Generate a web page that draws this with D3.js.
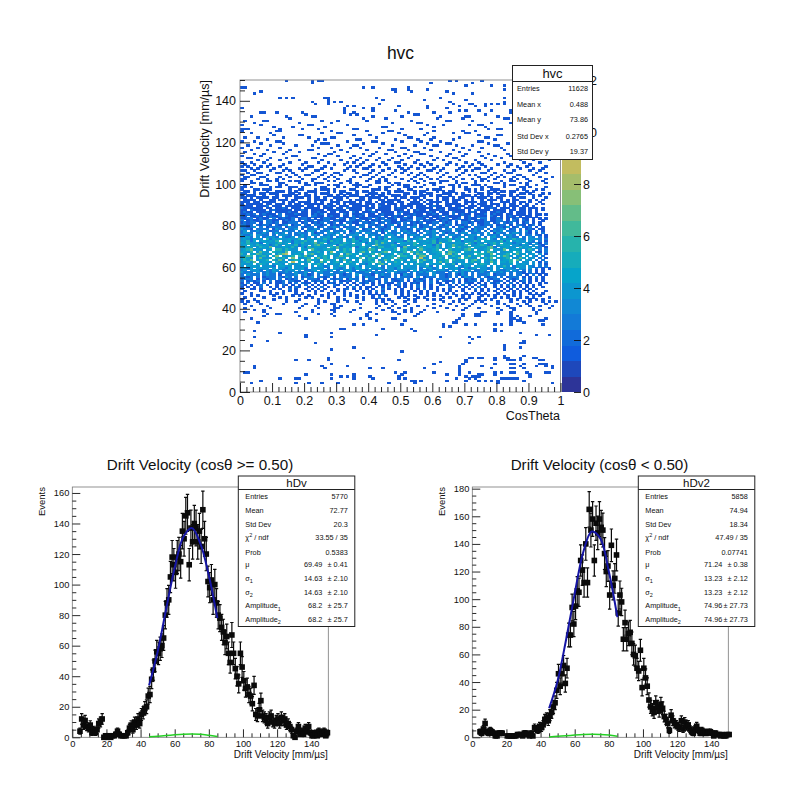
<!DOCTYPE html>
<html><head><meta charset="utf-8">
<script src="https://cdn.jsdelivr.net/npm/d3@7/dist/d3.min.js"></script>
<style>html,body{margin:0;padding:0;background:#fff}svg{display:block}text{font-family:"Liberation Sans",Arial,sans-serif;fill:#111}</style>
</head><body><svg id="c" width="800" height="785"></svg>
<script>
// ---- heat map: rows from y bin 101 down to y bin 44, one char per x bin ('.' = empty)
const denseTopBin = 101;
const denseRows = [
"1..1....11.1...1.11...1....1.1...11....1..11.1......1.1..1....111..1.....1.1.1...1..11....1...1..",
"...11.1.....11....1.1..111.....1..1.1.....11..1.11.....1...11.1....1.11..1.....11.1....1.1.....1.",
".1....111...1.1.....11.1...1.11....111..1......1.1.11....1..1....11.1...111.1.....1.11...1..1....",
"11.1.....1.11..111.1.....11...1.1...1.11...1.11....11.1.1.....11..1.1.1....1.11...1....11.1....1.",
"1...11.111.....1..11...1.111.1....11.....111.1...1..11....1.111...1...11.1.1..111.....1.1...1.1..",
".11.1...1..111.1.1...111...1.1.11...1.11.1....1.111...1.11...1.1.11....1.1...1.1.11.11...1.1.....",
"11..1.11.111...11.1.1..1.111...1.11.1...111.1.1....11.1.1.11...111.1.1....11.11.1...1..11.1...1.1",
"1.111..1...1.111.1..11.1...11.1.1.111..1.1.11..111.1....11.1.11..1...111.1.1.1...11.1.1....1.1...",
"11.1.1111.11..1..111.1.11.1..111.1...11.1111.1..1.11.111.1...1.11.1.11..1.111.1.11...1.11..1...1.",
".1111.1..11.111.11...1.1111.1.11..1.111.1..11.1111..1.1.1.11.1.11.111.1.1..1.111.1.1.11...1.1.1..",
"111.11.1111..1.11.1111.1.1..111.1111.1.11.1.1111.11..111.1.1111.1.11..1111.11.1..111.1.11.1..1...",
"1.11111.11.111.1.11.111111.11.1.1.1111.111.11.111.1.11111.11.1..11111.1.1.111.111.1.11.1.1..1.1..",
"1111.1112.111.111111.11.1.1211.111.11111.1.2111.1.1111.111.1211.11.111.111.1111.1.1.111.11.1.....",
"2111111.11.1121.111.11111.111.11.21111.111.1111.1211.1.11111.111.1112.111.1.1121.111.1.11.111.1..",
"11.21111.1211111.1121.1111.111211.1111.12.11111.111.1.1211.11121.11111.1.21111.1111.11.11.1.1.1..",
"1211.11121.1111211.11.11211.11.111.21.11121.1111.1211.1111121.111.2111.121.11.11211.1.111.1.1....",
"11212.12111.2.1112111.1212.1111.21.1112.11.12111.2.111211.1121.11.2.1211.1112.1211.11.111.1.11.1.",
"21.1121.12112.2111.11.2211.1211.11.2121.1112.1.1211.21.1121.112.21111.12.1211.21.1.121.1.11.1...",
"1122.1211.2.12112.1221.1.12211.21.12.1112.212.112.1211.221.1.1212.112.1211.22.1121.1.12.11.1.1.1",
"2.12112.2211.1212.1.212.1122.1211.2212.1.121.2211.1122.2.1211.1221.2.112.1212.1122.1.21.21.1..1.",
"12122.1.2212.11222.12.1212.212.1.2211.2212.12.2112.2.1212.1122.212.1.2212.1122.12.212.1.12.1.1..",
"2212.21221.2123.122.21.2212.12123.2.122.2212.123.1.2212.122.2.2132.1212.2.21222.122.1.221.12.1..",
"22123.2.12222.1322.2122.12.2232.1222.32.1.22212.2122.23.1222.2122.1.2312.2222.1.2213.12.212.1.1.",
"3221.2222.1322.223.1.2232.2212.2.3222.1232.2122.3.2212.223.1222.23.2212.1322.2.2232.12.2.121.11.",
"23.2232.3122.2322.2.1332.223.2223.12.3222.2313.22.2322.1.2323.2222.312.2232.2.1323.222.2.31.2.1.",
"2332.2232.2423.2.2322.3122.3323.2.2232.3322.1.3223.2322.2.3232.3122.233.2232.3.1322.2332.21.1.2.",
"3223.3322.2.3332.2242.332.2323.3.2333.2.2322.3432.2.2332.3223.22.3322.2333.2.3232.2332.2.22.21.1",
"2342.3.23332.3223.3323.2.3342.2322.3233.3.2423.3322.3.2333.2342.3.2233.3323.2.3423.2322.2.32.2.1",
"3432433.52434334335.243343532344.3352433.4232534334.42335.33423345243.3332445.32.34335342.3332.2.",
"33524.343435.3342434534.33425343.3354243.35344.3343253.43343524335.34243353.44333524.3433.32.2.1.",
"4353342.4334534.2435334635.23443543.34.2435364332.44335.3433526.433443.53243.3453.434233.42.31.2.",
"34.4354342353.4435243.3564334.25433543.43.6433354243.3543.44253.3464335.3345423.3544.33243.3.21..",
"5344.35436.3344353.42534433.5463343.2453.43553344.26433.5344353.34.45335.4433562.34433.5343.32.1.",
"3456343.34.5535433.43.64334543.3545.3443653.34435.4533.4643345.3.53443564.3345.4336.3443.353.2.2.",
"4435.3643.54436.3345.43453.37.34543.3564.43356.44335.6453.33445.36543.43354.4653.3344.54.33.21.2.",
"53.4465344.3578.3443.56334.4543.36544.3345.63434.5534.3654.3344.5735.4334.55436.3345.4634.34.3.1.",
"3465.3453.47.3345.54633.4454.3364534.4353.46.3453.5544.3673.4435.3543.46345.3354.4653.33.4.32.2.",
"4543.46334.5453.7.3345.46354.3534.4436.3553.3445.63434.5833.4453.4346.5433.3546.4345.3364.33.2.1.",
"3546.3445.5363.3454.36443.5534.3643.4.5354.3364.4453.35.4643.3445.5334.3564.4353.3445.63.43.2.2.",
"34536.3443.5343.8.4435.3364.3453.4534.3345.63.4354.3443.5334.4635.3343.4534.3364.4435.3.33.3.1.2",
"4334.3543.3443.5334.3.4453.3343.4534.3324.3563.3443.4.3533.4344.3352.4433.3543.4.3334.4343.3.2.1.",
"3.4343.3342.4433.3334.3.4423.3353.3342.3434.2.3343.3433.3352.3.4433.3243.3443.3.3353.2443.32.2.2.",
"3323.3433.3.3324.3342.3333.2.4323.3243.3.3342.3324.3333.2.3423.3.3342.3234.3323.3.4332.33.3.2.1.1",
"23.3332.3243.2333.3.2234.3323.2.3332.3423.2.3233.3332.4.2323.3332.3.2343.2233.3.3223.32.2.2.1.1.",
"3222.3.2323.2232.3223.2.3322.2232.3.2223.2322.3.3222.2.2323.3222.2.3232.2.2322.3232.2.221.2.1.1.",
"2.3222.2322.1.2223.2312.2.2232.2122.3.2221.2322.2.1322.2222.3.2212.2132.2.2223.1222.2.22.1.2.1.1",
"2212.2.1222.2132.2.1223.2212.1.2222.2.1322.2122.2.2221.3.1222.2212.2.1322.2.2122.2.1222.1.1.2.1.",
"1222.1.2122.2.1212.2.2221.1.2122.1322.1.2212.2.1122.2.2212.1.2222.1.2.1212.2.2122.1.212.2.1.1.1.",
"2.1212.1.2.112.2211.1.2122.1.2.1121.2.1212.1.2.2112.1.1221.2.1.2112.1.1222.1.2.112.1.1.12.1.1.1.",
"1.2.11.2.1.112.1.2.211.1.1.121.2.1.1.212.1.1.211.2.1.121.1.2.11.1.2.1.211.1.1.212.1.2.1.1.1..1.1",
"21.1.12.1..1.21.1.1.2.1.1.1..21.1.2.1.1..1.21.1.12.1.1.2.1.1..12.1.1.2.1.1.21..1.1.2.1.1.1.1.1..",
"1.1.1.2..1.1.1.1.21..1.1.2.1.1...1.2.1.11.1.1.2..1.1.1.2.1.1.1...21.1.1.1.2.1..1.1.1.2.1.1.1..1.",
"1..11.1...1.1..2.1..1.1.1.1...1.12.1.1.1.1..2.1.1.1..1.1.2.1.1.1.1...1.1.2.1.1..1.1.1.1.1.1.1...",
".1....11.1...1.1.1...1.1.1..1.1.1...1.1.1.2.1...1.1.1.1.1.1..1.1.1.1.1...1.1.1.1.1.1.1.1.1.1...1",
"1..1.....1.1.1...1.1...1...1.1..1.1...1.1.1.2...1.1.1...1.1.1...1.1...1.1.1.1...1.1..1.1..1.1.1.",
"...1.1....1.....1.1..1...1.1....1.1.1....1.1.1....1.1.1...1.1.1....1.1.1...1.1.1...1.1.1...1.1..",
".1.....1....1.1.....1.1....1..1.....1.1..1.2.....1.1...1.1.....1.1...1.1..1....1.1.1...1.1.1....1",
"1...1.....1...1...1.....1.....1.1.....1...1.1.1.....1.1...1.1.1.....1.1...1.1.1.....1.1...1.1.1.."
];
// ---- heat map: sparse rows above and below the band [y bin, [x bins]]
const sparseRows = [
[149,[14,22,24,25,65,67,75]],[148,[22,59,72,87]],[147,[70,78,82]],[146,[0,1,38,41,52,85]],
[145,[47,48,52,58,82]],[144,[6,48,53,64]],[143,[4,66,72]],[141,[12,14,16,26,27,42,62,82]],
[140,[27,44,57,70]],[139,[22,27,29,31,82,65]],[138,[23,27,43,66,71,72,76,78,80,82]],
[137,[33,35,49,58,68,73,76]],[136,[0,32,38,41,58,64]],[135,[32,41,48,68,70,74,78,84]],
[134,[6,7,11,19,32,35,52,60,65,84]],[133,[20,34,36,54,55,76,86]],[132,[3,14,22,23,41,50,62,70,71,80]],
[131,[15,38,45,61,69,82,83,88]],[130,[1,7,8,25,30,39,53,64,65,72,90]],[129,[4,18,28,47,55,56,78,84]],
[128,[0,6,21,22,33,58,63,71,74,75,87,92]],[127,[10,16,26,44,45,60,76,85]],
[126,[0,1,2,12,19,24,35,36,50,56,77,80,81,88,93]],[125,[0,11,12,28,39,46,47,60,69,73,90]],
[124,[3,9,25,30,31,44,49,58,66,70,71,86,94]],[123,[10,18,19,35,40,51,57,74,80,81,91]],
[122,[1,5,13,21,28,29,42,52,53,60,68,76,77,89,95]],[121,[8,24,26,36,37,48,55,59,66,79,86,87]],
[120,[0,4,11,12,23,33,41,42,50,56,62,74,75,85,90]],[119,[6,13,25,26,27,38,44,58,64,65,77,83,88]],
[118,[2,9,17,22,30,35,36,47,54,60,61,67,72,79,80,93]],[117,[0,5,12,24,28,34,37,43,50,51,57,69,75,81,90]],
[116,[3,8,15,21,22,31,39,46,47,52,59,66,71,82,87,88,94]],[115,[1,10,14,18,29,33,42,48,54,55,62,68,74,85,91]],
[114,[4,7,13,24,27,28,38,41,45,51,56,57,65,70,77,83,92]],[113,[0,6,16,17,26,30,35,40,49,53,59,64,69,75,79,84,85,95]],
[112,[2,3,9,14,22,23,34,37,43,47,52,61,66,67,76,81,89]],[111,[5,8,12,18,25,31,36,39,42,46,50,55,60,63,68,73,78,87,91,96]],
[110,[0,3,7,15,20,24,27,33,35,38,44,48,49,54,58,65,70,74,82,88,93]],[109,[1,4,9,13,19,29,32,37,41,45,51,56,59,64,67,72,75,80,84,90]],
[108,[0,2,6,8,12,21,22,26,34,36,40,43,49,53,57,61,69,71,76,83,86,89,95]],
[107,[3,5,10,14,18,20,25,28,33,38,39,46,50,52,55,60,63,68,73,74,78,87,91,94]],
[106,[0,1,4,9,13,15,19,23,24,32,35,41,44,48,51,58,59,62,67,70,72,77,82,85,90,93]],
[105,[2,5,6,11,12,16,22,26,29,30,36,40,43,47,50,53,56,61,64,69,75,76,79,83,84,92,95]],
[104,[0,3,4,8,14,17,20,21,25,28,31,38,39,42,46,52,55,57,63,68,71,73,78,81,86,87,91]],
[103,[1,2,6,7,12,15,18,24,27,29,35,37,41,44,48,54,58,62,65,67,74,77,80,82,85,88,93,97]],
[102,[0,1,5,8,11,13,19,22,23,26,30,34,40,43,45,50,53,56,59,61,66,69,72,75,76,79,84,86,89,95]],
[43,[0,2,5,14,17,24,26,30,33,36,42,44,47,51,54,63,66,68,73,75,80,84,88,90,94,96,98]],
[42,[1,6,13,20,24,28,29,37,42,45,48,52,60,65,69,72,76,80,82,86,89,95]],
[41,[3,8,19,23,29,31,43,47,51,55,58,62,67,71,78,83,87,90,93,97]],
[40,[1,9,18,24,29,30,37,42,46,49,53,60,64,70,74,80,84,85,91,96]],
[39,[4,7,22,28,29,35,44,47,51,53,57,66,69,81,85,91,93]],
[38,[1,7,17,22,29,34,40,47,48,51,53,56,61,75,76,80,84,92]],
[37,[8,11,12,24,28,39,42,49,55,69,73,74,80,84,92]],
[36,[7,18,29,39,54,69,73,74,84,86,90]],
[35,[3,20,37,40,47,48,68,84,85,87,95]],[34,[42,51,67,84,86,87,93,94]],[33,[5,66,67,84,88]],
[32,[35,38,50,63,70,73,79,81,84,94]],[31,[63,65]],[30,[31,32,44,53,79]],[29,[4,54,79,81]],
[28,[12,28,87]],[27,[20,42,92,96]],[26,[4,20,28,62,71,74]],[25,[72]],[24,[8,88]],[23,[23,71,87,88]],
[22,[3,82]],[21,[35,82,87]],[20,[28,82]],[19,[50]],[17,[82,88]],[16,[27,38,71,72,74,75,79,82,83,87,91,92]],
[15,[17,21,27,49,70,79,83,84,85,87,93,94]],[14,[62,70]],[13,[28,60,69,79,84,85,88,93,94,95]],
[12,[4,25,33,68,75,87,92,95,97]],[11,[4,26,40,44,57,68,78,84,85,88,97]],[10,[68]],
[9,[1,2,48,51,60,68,71,79,81,84,85,89,95,96]],[8,[20,28,35,50,64,68,74,75,79,90]],
[7,[31,33,35,40,49,70,72,73,74,90]],[6,[12,17,18,28,35,41,49,51,67,71,73,81,82,83,84,85,86]],
[5,[6,53,54,56,64,70,74,76,78,80,88]],[4,[3,17,21,25,30,46,54,80,97]]
];
const zMax = 12;
const paletteLevels = 20;
const birdStops = ["#352a87","#0f5cdd","#1481d6","#06a4ca","#2eb7a4","#87bf77","#d1bb59","#fec832","#f9fb0e"];
const heatXTicks = [0,0.1,0.2,0.3,0.4,0.5,0.6,0.7,0.8,0.9,1];
const heatYTicks = [0,20,40,60,80,100,120,140];
const zTicks = [0,2,4,6,8,10,12];
// ---- 1D histograms, first value is the bin starting at 4 mm/us; null = no marker
const histStart = 4;
const highCos = [4,12,8,11,7,6,8,3,5,3,5,9,10,12,0,1,0,1,0,1,1,2,4,2,1,1,1,1,3,6,8,5,10,8,12,9,15,16,19,20,27,28,38,44,50,56,55,58,60,65,80,88,90,105,118,113,108,118,120,115,135,130,145,147,113,137,128,140,137,128,135,125,149,130,120,102,98,103,90,100,88,80,78,72,69,62,66,55,49,67,55,45,40,35,55,46,37,32,33,28,27,22,34,15,14,18,24,14,13,12,9,13,14,10,9,11,12,9,13,11,12,8,9,7,5,1,0,4,7,2,4,2,6,4,7,3,1,1,3,1,4,2,3,4,1,3];
const lowCos = [4,3,6,10,4,3,5,4,3,1,1,3,3,3,null,null,1,1,1,1,1,1,2,2,2,1,3,3,2,1,3,1,7,6,5,8,7,9,13,14,12,16,18,22,25,34,46,37,46,52,39,50,74,74,94,82,95,106,105,128,121,112,140,112,165,150,158,128,155,148,158,152,150,133,120,124,103,139,110,115,132,90,103,98,71,83,71,75,76,68,60,59,50,48,63,36,50,43,37,27,22,20,18,25,22,19,24,21,15,13,10,5,16,12,10,9,8,7,12,6,11,8,9,6,4,3,6,8,5,3,5,3,4,3,4,4,3,1,3,2,2,1,2,1,1,2,2];
// ---- fit curves at 5 mm/us steps from 45 to 85
const fitX = [45,50,55,60,65,70,75,80,85];
const fitHigh = [34,56,84,111,131,137,127,106,78];
const fitLow = [21,41,71,104,134,149,144,120,87];
const bgHigh = [0.3,0.7,1.1,1.6,2,2.2,2,1.3,0.5];
const bgLow = [0.3,0.7,1.1,1.6,2,2.2,2.1,1.6,0.7];
const histXTicks = [0,20,40,60,80,100,120,140];
const highYTicks = [0,20,40,60,80,100,120,140,160];
const lowYTicks = [0,20,40,60,80,100,120,140,160,180];
// ---- statistics boxes
const hvcStats = [["Entries","11628"],["Mean x","0.488"],["Mean y","73.86"],["Std Dev x","0.2765"],["Std Dev y","19.37"]];
const highStats = [["Entries","5770"],["Mean","72.77"],["Std Dev","20.3"],["χ|2| / ndf","33.55 / 35"],["Prob","0.5383"]];
const highFit = [["μ","69.49","± 0.41"],["σ_1","14.63","± 2.10"],["σ_2","14.63","± 2.10"],["Amplitude_1","68.2","± 25.7"],["Amplitude_2","68.2","± 25.7"]];
const lowStats = [["Entries","5858"],["Mean","74.94"],["Std Dev","18.34"],["χ|2| / ndf","47.49 / 35"],["Prob","0.07741"]];
const lowFit = [["μ","71.24","± 0.38"],["σ_1","13.23","± 2.12"],["σ_2","13.23","± 2.12"],["Amplitude_1","74.96","± 27.73"],["Amplitude_2","74.96","± 27.73"]];

const svg = d3.select("#c");
const frameCol = "#777";

function ticks(g, axis, fs){
  g.call(axis);
  g.select(".domain").remove();
  g.selectAll("line").attr("stroke","#111").attr("stroke-width",0.9);
  g.selectAll("text").style("font-size",fs+"px").style("font-family",'"Liberation Sans"');
}
function minors(a,b,s,major){const o=[];for(let v=a;v<=b+1e-9;v+=s){const r=+v.toFixed(4);if(!major.some(m=>Math.abs(m-r)<1e-6))o.push(r);}return o;}

// ================= heat map
(function(){
  const x = d3.scaleLinear().domain([0,1]).range([240,560.5]);
  const y = d3.scaleLinear().domain([0,150]).range([392,80]);
  const bird = d3.scaleLinear().domain(birdStops.map((_,i)=>i/(birdStops.length-1))).range(birdStops).interpolate(d3.interpolateRgb);
  const cellCol = v => bird((Math.floor(v/zMax*paletteLevels)+1.2)/paletteLevels);
  const cells = [];
  denseRows.forEach((s,i)=>{ for(let c=0;c<s.length;c++){ if(s[c]!=="."){ cells.push({c:c,r:denseTopBin-i,v:+s[c]}); } } });
  sparseRows.forEach(([r,cs])=>cs.forEach(c=>cells.push({c:c,r:r,v:1})));
  const bw = (x(1)-x(0))/100, bh = (y(0)-y(150))/150;
  svg.append("g").attr("shape-rendering","crispEdges").selectAll("rect").data(cells).join("rect")
    .attr("x",d=>x(d.c/100)).attr("y",d=>y((d.r+1)))
    .attr("width",bw+0.3).attr("height",bh+0.3).attr("fill",d=>cellCol(d.v));
  svg.append("rect").attr("x",240).attr("y",80).attr("width",320.5).attr("height",312).attr("fill","none").attr("stroke",frameCol).attr("stroke-width",0.8);
  ticks(svg.append("g").attr("transform","translate(0,392)"), d3.axisBottom(x).tickValues(minors(0,1,0.02,heatXTicks)).tickSize(-5).tickFormat(""),11);
  ticks(svg.append("g").attr("transform","translate(0,392)"), d3.axisBottom(x).tickValues(heatXTicks).tickSize(-9).tickPadding(4).tickFormat(d=>d),12.5);
  ticks(svg.append("g").attr("transform","translate(240,0)"), d3.axisLeft(y).tickValues(minors(0,150,5,heatYTicks)).tickSize(-5).tickFormat(""),11);
  ticks(svg.append("g").attr("transform","translate(240,0)"), d3.axisLeft(y).tickValues(heatYTicks).tickSize(-10).tickPadding(4).tickFormat(d=>d),12.5);
  // palette
  const z = d3.scaleLinear().domain([0,zMax]).range([392,80]);
  svg.append("g").attr("shape-rendering","crispEdges").selectAll("rect").data(d3.range(paletteLevels)).join("rect")
    .attr("x",562).attr("width",19)
    .attr("y",d=>z((d+1)*zMax/paletteLevels)).attr("height",(392-80)/paletteLevels+0.4)
    .attr("fill",d=>bird((d+0.5)/paletteLevels));
  const zg = svg.append("g").attr("transform","translate(581,0)");
  ticks(zg, d3.axisRight(z).tickValues(zTicks).tickSize(-7).tickPadding(2).tickFormat(d=>d),12.5);
  zg.selectAll("text").attr("x",2);
  svg.append("text").attr("x",400.5).attr("y",59).attr("text-anchor","middle").style("font-size","17.5px").text("hvc");
  svg.append("text").attr("x",560).attr("y",420).attr("text-anchor","end").style("font-size","12.5px").text("CosTheta");
  svg.append("text").attr("transform","translate(209,80) rotate(-90)").attr("text-anchor","end").style("font-size","12.5px").text("Drift Velocity [mm/µs]");
  // stats
  const bx = svg.append("g");
  bx.append("rect").attr("x",512.5).attr("y",65.5).attr("width",80).attr("height",94).attr("fill","#fff").attr("stroke","#222").attr("stroke-width",1);
  bx.append("line").attr("x1",512.5).attr("x2",592.5).attr("y1",81.5).attr("y2",81.5).attr("stroke","#222").attr("stroke-width",1);
  bx.append("text").attr("x",552.5).attr("y",78).attr("text-anchor","middle").style("font-size","13px").text("hvc");
  hvcStats.forEach((d,i)=>{
    const yy = [91.3,107,122.3,138.6,153.6][i];
    bx.append("text").attr("x",517).attr("y",yy).style("font-size","7.3px").text(d[0]);
    bx.append("text").attr("x",588).attr("y",yy).attr("text-anchor","end").style("font-size","7.3px").text(d[1]);
  });
})();

// ================= 1D panels
function panel(o){
  const L=o.left,R=o.left+256,T=487,B=737.3;
  const x=d3.scaleLinear().domain([0,150]).range([L,R]);
  const y=d3.scaleLinear().domain([0,o.yMax]).range([B,T]);
  svg.append("text").attr("x",o.titleX).attr("y",470).attr("text-anchor","middle").style("font-size","15.2px").text(o.title);
  svg.append("rect").attr("x",L).attr("y",T).attr("width",256).attr("height",B-T).attr("fill","none").attr("stroke",frameCol).attr("stroke-width",0.8);
  ticks(svg.append("g").attr("transform",`translate(0,${B})`),d3.axisBottom(x).tickValues(minors(0,150,5,histXTicks)).tickSize(-4).tickFormat(""),9);
  ticks(svg.append("g").attr("transform",`translate(0,${B})`),d3.axisBottom(x).tickValues(histXTicks).tickSize(-8).tickPadding(3).tickFormat(d=>d),9.3);
  ticks(svg.append("g").attr("transform",`translate(${L},0)`),d3.axisLeft(y).tickValues(minors(0,o.yMax,5,o.yTicks)).tickSize(-4).tickFormat(""),9);
  ticks(svg.append("g").attr("transform",`translate(${L},0)`),d3.axisLeft(y).tickValues(o.yTicks).tickSize(-8).tickPadding(3).tickFormat(d=>d),9.3);
  svg.append("text").attr("x",R-0.5).attr("y",758).attr("text-anchor","end").style("font-size","10px").text("Drift Velocity [mm/µs]");
  svg.append("text").attr("transform",`translate(${L-27},487) rotate(-90)`).attr("text-anchor","end").style("font-size","9.5px").text("Events");
  const pts=o.values.map((v,i)=>({x:histStart+i+0.5,v})).filter(d=>d.v!==null);
  const g=svg.append("g");
  g.selectAll("path.e").data(pts).join("path").attr("class","e")
    .attr("d",d=>{const X=x(d.x),a=y(d.v+Math.sqrt(d.v)),b=y(Math.max(0,d.v-Math.sqrt(d.v)));return `M${X},${a}V${b}M${X-1.7},${a}H${X+1.7}M${X-1.7},${b}H${X+1.7}`;})
    .attr("fill","none").attr("stroke","#0a0a0a").attr("stroke-width",1.2);
  g.selectAll("rect").data(pts).join("rect").attr("x",d=>x(d.x)-2.8).attr("y",d=>y(d.v)-2.8).attr("width",5.6).attr("height",5.6).attr("fill","#0a0a0a");
  const ln=arr=>d3.line().x((d,i)=>x(fitX[i])).y(d=>y(d)).curve(d3.curveCatmullRom)(arr);
  g.append("path").attr("d",ln(o.bg)).attr("fill","none").attr("stroke","#25d025").attr("stroke-width",1.5);
  g.append("path").attr("d",ln(o.fit)).attr("fill","none").attr("stroke","#1515a5").attr("stroke-width",2);
  // stats
  const bl=o.boxX,br=o.boxX+116.5,rowY=[499.2,513.2,526.5,539.5,554.5,567.2,580.5,594.5,608.2,621.5];
  const b=svg.append("g");
  b.append("rect").attr("x",bl).attr("y",476).attr("width",116.5).attr("height",150.5).attr("fill","#fff").attr("stroke","#222").attr("stroke-width",1);
  b.append("line").attr("x1",bl).attr("x2",br).attr("y1",489.5).attr("y2",489.5).attr("stroke","#222").attr("stroke-width",1);
  b.append("text").attr("x",(bl+br)/2).attr("y",487).attr("text-anchor","middle").style("font-size","11.5px").text(o.name);
  function label(x0,yy,s){
    const t=b.append("text").attr("x",x0).attr("y",yy).style("font-size","7.3px");
    let m;
    if((m=s.match(/^(.*)_(\d)$/))){t.append("tspan").text(m[1]);t.append("tspan").attr("dy",2.5).style("font-size","5.5px").text(m[2]);}
    else if((m=s.match(/^(.*)\|(\d)\|(.*)$/))){t.append("tspan").text(m[1]);t.append("tspan").attr("dy",-2.5).style("font-size","5.5px").text(m[2]);t.append("tspan").attr("dy",2.5).text(m[3]);}
    else t.text(s);
  }
  o.stats.forEach((d,i)=>{label(bl+7,rowY[i],d[0]);b.append("text").attr("x",br-7).attr("y",rowY[i]).attr("text-anchor","end").style("font-size","7.3px").text(d[1]);});
  o.fitRows.forEach((d,i)=>{const yy=rowY[i+5];label(bl+7,yy,d[0]);
    b.append("text").attr("x",bl+84).attr("y",yy).attr("text-anchor","end").style("font-size","7.3px").text(d[1]);
    b.append("text").attr("x",br-7).attr("y",yy).attr("text-anchor","end").style("font-size","7.3px").text(d[2]);});
}
panel({left:72.3,titleX:200,title:"Drift Velocity (cosθ >= 0.50)",yMax:163.9,yTicks:highYTicks,values:highCos,fit:fitHigh,bg:bgHigh,boxX:238.3,name:"hDv",stats:highStats,fitRows:highFit});
panel({left:472.3,titleX:599.5,title:"Drift Velocity (cosθ < 0.50)",yMax:181.2,yTicks:lowYTicks,values:lowCos,fit:fitLow,bg:bgLow,boxX:638.3,name:"hDv2",stats:lowStats,fitRows:lowFit});
</script></body></html>
